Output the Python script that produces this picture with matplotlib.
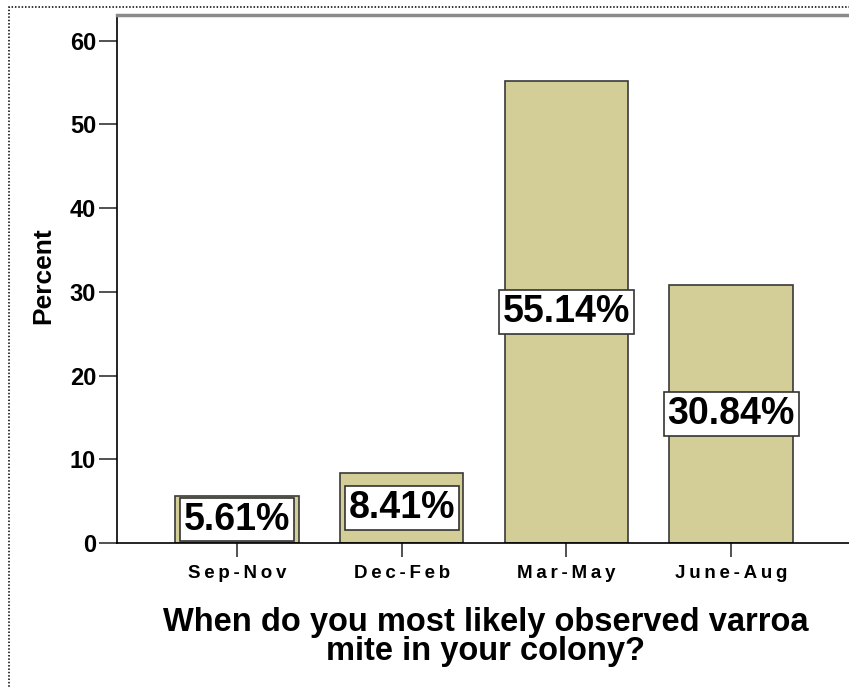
import matplotlib
matplotlib.use("Agg")
import matplotlib.pyplot as plt
from matplotlib.patches import Rectangle

categories = ["Sep-Nov", "Dec-Feb", "Mar-May", "June-Aug"]
percents = [5.61, 8.41, 55.14, 30.84]
yticks = [0, 10, 20, 30, 40, 50, 60]

FONT = ["Liberation Sans", "DejaVu Sans"]
plt.rcParams["font.family"] = FONT

fig = plt.figure(figsize=(8.49, 6.87), dpi=100)
ax = fig.add_axes([117/849, 1 - 543/687, 1 - 117/849, (543 - 15)/687])

xs = list(range(len(categories)))
ax.bar(xs, percents, width=0.75, color="#D3CE97", edgecolor="#3a3a3a", linewidth=1.2, zorder=2)

for x, v in zip(xs, percents):
    ax.text(x, v / 2, f"{v:.2f}%", ha="center", va="center", fontsize=27, fontweight="bold",
            bbox=dict(boxstyle="square,pad=0.1", facecolor="white", edgecolor="#333333", linewidth=1.2),
            zorder=3)

ax.set_xlim(-0.729, 3.716)
ax.set_ylim(0, 63.08)
ax.set_yticks(yticks)
ax.set_yticklabels([str(t) for t in yticks], fontsize=17, fontweight="bold")
ax.set_xticks(xs)
ax.set_xticklabels(["\u2009".join(c) for c in categories], fontsize=13.5, fontweight="bold")
ax.tick_params(axis="y", length=13, width=1.2, pad=2, color="#333333")
ax.tick_params(axis="x", length=10, width=1.2, pad=6, color="#333333")

ax.spines["right"].set_visible(False)
ax.spines["top"].set_color("#8a8a8a")
ax.spines["top"].set_linewidth(2.5)
ax.spines["left"].set_linewidth(1.2)
ax.spines["bottom"].set_linewidth(1.2)

ax.set_ylabel("Percent", fontsize=19, fontweight="bold", labelpad=10)
ax.yaxis.set_label_coords(-(117 - 43) / (849 - 117), (543 - 276) / (543 - 15))
ax.yaxis.label.set_va("center")
ax.set_xlabel("When do you most likely observed varroa\nmite in your colony?", fontsize=23.5,
              fontweight="bold", linespacing=0.95)
ax.xaxis.set_label_coords((486 - 117) / (849 - 117), -(637 - 543) / (543 - 15))
ax.xaxis.label.set_va("center")

fig.patches.append(Rectangle((9/849, -0.1), 1.2, 1 - 7/687 + 0.1, transform=fig.transFigure,
                             fill=False, edgecolor="black", linestyle=(0, (1, 1.2)), linewidth=1.1))

fig.savefig("out.png", dpi=100)
